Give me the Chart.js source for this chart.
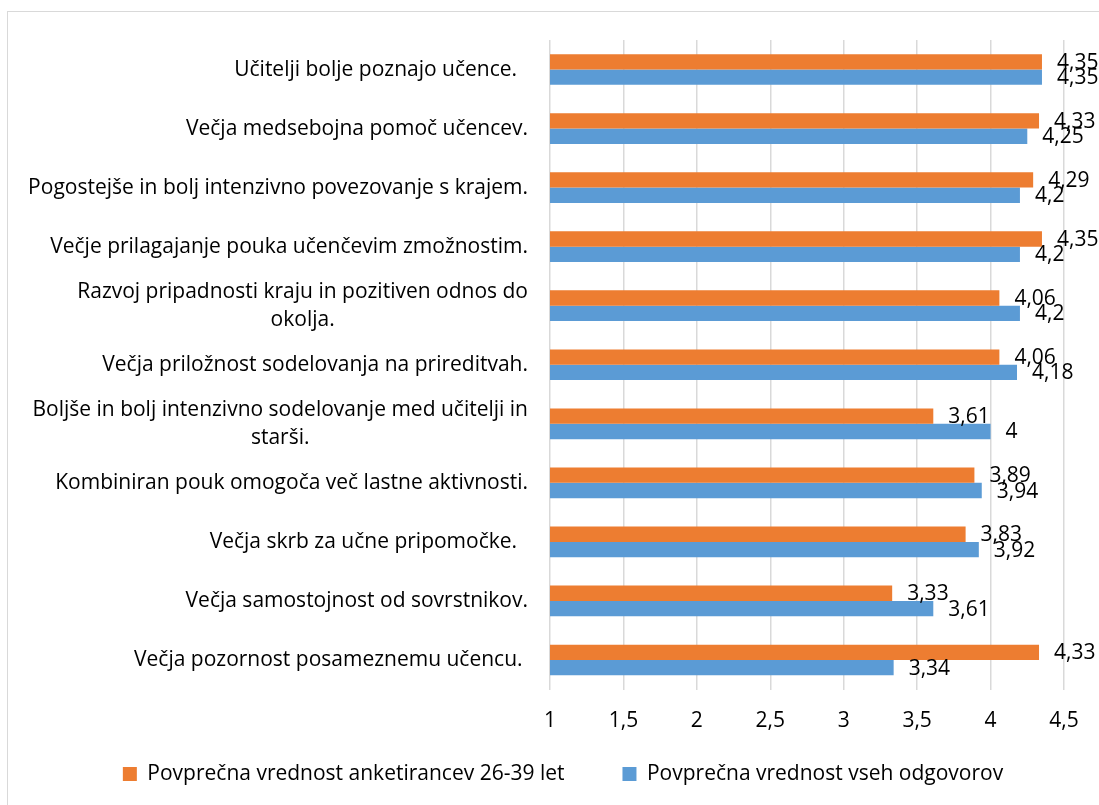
<!DOCTYPE html>
<html>
<head>
<meta charset="utf-8">
<script src="https://cdn.jsdelivr.net/npm/chart.js@4.4.0/dist/chart.umd.min.js"></script>
<style>
  html, body { margin: 0; padding: 0; background: #fff; overflow: hidden; }
  .frame { position: absolute; left: 7px; top: 11px; width: 1110px; height: 820px; border: 1px solid #d9d9d9; }
  .chart-wrapper { position: absolute; left: 0; top: 0; width: 1099px; height: 805px; }
</style>
</head>
<body>
<div class="frame"></div>
<div class="chart-wrapper"><canvas id="bar-c11"></canvas></div>
<script>
const categories = [
  ["Učitelji bolje poznajo učence.  "],
  ["Večja medsebojna pomoč učencev."],
  ["Pogostejše in bolj intenzivno povezovanje s krajem."],
  ["Večje prilagajanje pouka učenčevim zmožnostim."],
  ["Razvoj pripadnosti kraju in pozitiven odnos do", "okolja."],
  ["Večja priložnost sodelovanja na prireditvah."],
  ["Boljše in bolj intenzivno sodelovanje med učitelji in", "starši."],
  ["Kombiniran pouk omogoča več lastne aktivnosti."],
  ["Večja skrb za učne pripomočke.  "],
  ["Večja samostojnost od sovrstnikov."],
  ["Večja pozornost posameznemu učencu. "],
];
const ageGroupValues = [4.35, 4.33, 4.29, 4.35, 4.06, 4.06, 3.61, 3.89, 3.83, 3.33, 4.33];
const allAnswersValues = [4.35, 4.25, 4.2, 4.2, 4.2, 4.18, 4, 3.94, 3.92, 3.61, 3.34];
const tickLabels = ["1", "1,5", "2", "2,5", "3", "3,5", "4", "4,5"];

const FONT = "'Open Sans'";
const TEXT_SIZE = 21;

// axis texts drawn by hand so they are not clipped to the scale boxes
const axisLabels = {
  id: "axisLabels",
  afterDraw(chart) {
    const ctx = chart.ctx;
    const x = chart.scales.x;
    const y = chart.scales.y;
    const right = chart.chartArea.left - 22;
    ctx.save();
    ctx.font = TEXT_SIZE + "px " + FONT;
    ctx.fillStyle = "#000";
    ctx.textBaseline = "middle";
    ctx.textAlign = "center";
    // categories: wrapped lines centred, block right aligned (like Excel)
    categories.forEach((lines, i) => {
      const cy = y.getPixelForValue(i);
      const w = Math.max(...lines.map((l) => ctx.measureText(l).width));
      const cx = right - w / 2;
      lines.forEach((line, k) => {
        ctx.fillText(line, cx, cy + (k - (lines.length - 1) / 2) * 28);
      });
    });
    // value ticks
    x.ticks.forEach((t, i) => {
      ctx.fillText(tickLabels[i], x.getPixelForValue(t.value), chart.chartArea.bottom + 32);
    });
    ctx.restore();
  },
};

// value labels at the end of each bar
const valueLabels = {
  id: "valueLabels",
  afterDatasetsDraw(chart) {
    const ctx = chart.ctx;
    ctx.save();
    ctx.font = TEXT_SIZE + "px " + FONT;
    ctx.fillStyle = "#000";
    ctx.textAlign = "left";
    ctx.textBaseline = "middle";
    chart.data.datasets.forEach((ds, di) => {
      chart.getDatasetMeta(di).data.forEach((bar, i) => {
        ctx.fillText(String(ds.data[i]).replace(".", ","), bar.x + 15, bar.y + 1);
      });
    });
    ctx.restore();
  },
};

const ctx = document.getElementById("bar-c11").getContext("2d");
new Chart(ctx, {
  type: "bar",
  data: {
    labels: categories,
    datasets: [
      {
        label: "Povprečna vrednost anketirancev 26-39 let",
        data: ageGroupValues,
        backgroundColor: "#ED7D31",
      },
      {
        label: "Povprečna vrednost vseh odgovorov",
        data: allAnswersValues,
        backgroundColor: "#5B9BD5",
      },
    ],
  },
  options: {
    indexAxis: "y",
    responsive: true,
    maintainAspectRatio: false,
    animation: false,
    categoryPercentage: 0.52,
    barPercentage: 1,
    layout: {
      padding: { left: 36, right: 9, top: 40, bottom: 10.5 },
    },
    plugins: {
      legend: {
        position: "bottom",
        labels: {
          boxWidth: 14,
          boxHeight: 14,
          padding: 58,
          color: "#000",
          font: { family: FONT, size: TEXT_SIZE },
        },
      },
      tooltip: { enabled: false },
    },
    scales: {
      x: {
        min: 1,
        max: 4.5,
        afterFit: function (scale) {
          scale.height = 16;
        },
        grid: {
          color: "#d9d9d9",
          lineWidth: 1.5,
          drawTicks: false,
        },
        border: { display: false },
        ticks: {
          stepSize: 0.5,
          display: false,
        },
      },
      y: {
        afterFit: function (scale) {
          scale.width = 514;
        },
        grid: { display: false },
        border: { display: false },
        ticks: { display: false },
      },
      // empty spacer on the right so the legend centres like the original
      yRight: {
        type: "linear",
        position: "right",
        afterFit: function (scale) {
          scale.width = 26;
        },
        grid: { display: false },
        border: { display: false },
        ticks: { display: false },
      },
    },
  },
  plugins: [axisLabels, valueLabels],
});
</script>
</body>
</html>
